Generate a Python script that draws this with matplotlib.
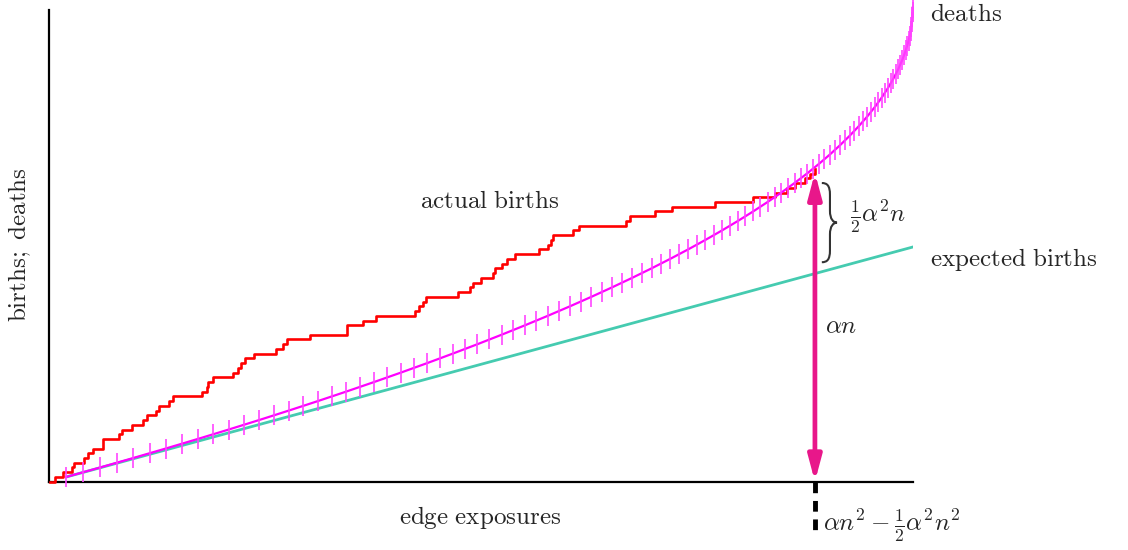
import matplotlib
matplotlib.use('Agg')
import matplotlib.pyplot as plt
from matplotlib.patches import FancyArrowPatch, PathPatch
from matplotlib.path import Path

plt.rcParams['mathtext.fontset'] = 'cm'

# deaths: exposure at which death number 1..100 happens
death_exposure = [100, 198, 296, 392, 488, 582, 676, 768, 860, 950,
                  1040, 1128, 1216, 1302, 1388, 1472, 1556, 1638, 1720, 1800,
                  1880, 1958, 2036, 2112, 2188, 2262, 2336, 2408, 2480, 2550,
                  2620, 2688, 2756, 2822, 2888, 2952, 3016, 3078, 3140, 3200,
                  3260, 3318, 3376, 3432, 3488, 3542, 3596, 3648, 3700, 3750,
                  3800, 3848, 3896, 3942, 3988, 4032, 4076, 4118, 4160, 4200,
                  4240, 4278, 4316, 4352, 4388, 4422, 4456, 4488, 4520, 4550,
                  4580, 4608, 4636, 4662, 4688, 4712, 4736, 4758, 4780, 4800,
                  4820, 4838, 4856, 4872, 4888, 4902, 4916, 4928, 4940, 4950,
                  4960, 4968, 4976, 4982, 4988, 4992, 4996, 4998, 5000, 5000]
death_count = list(range(1, len(death_exposure) + 1))

birth_exposure = [35, 83, 135, 146, 204, 224, 256, 314, 314, 405,
                  424, 482, 546, 566, 618, 637, 695, 720, 887, 913,
                  922, 951, 1067, 1096, 1110, 1135, 1187, 1314, 1356, 1380,
                  1511, 1723, 1723, 1820, 1893, 2119, 2144, 2163, 2183, 2370,
                  2437, 2453, 2499, 2572, 2582, 2621, 2650, 2698, 2838, 2891,
                  2904, 2919, 3032, 3070, 3340, 3363, 3508, 3605, 3856, 4074,
                  4203, 4271, 4319, 4377, 4406, 4434]
birth_count = list(range(1, len(birth_exposure) + 1))

# expected births line
expected_x = [100, 5000]
expected_y = [1, 49.5]

# crossing point marked by the arrow
cross_exposure = 4434
cross_level = 65.2
brace_top = 63.0
brace_bottom = 46.3

fig = plt.figure(figsize=(11.28, 5.5), dpi=100)
ax = fig.add_axes([49 / 1128, 68.3 / 550, 863.7 / 1128, 471.7 / 550])
ax.set_xlim(0, 5000)
ax.set_ylim(0, 99.5)
for side in ['top', 'right']:
    ax.spines[side].set_visible(False)
for side in ['left', 'bottom']:
    ax.spines[side].set_linewidth(1.6)
ax.set_xticks([])
ax.set_yticks([])

ax.plot(expected_x, expected_y, color='#45cbb0', lw=2, zorder=2)

ax.step([5] + birth_exposure, [0] + birth_count, where='post',
        color='#ff0000', lw=1.9, zorder=3, clip_on=False)

ax.plot(death_exposure, death_count, color='#ff00ff', lw=1.6, zorder=4,
        clip_on=False)
ax.plot(death_exposure, death_count, ls='none', marker='|', ms=14,
        mew=1.4, color='#ff44ff', alpha=0.85, zorder=4, clip_on=False)

arrow = FancyArrowPatch((cross_exposure, 0), (cross_exposure, cross_level),
                        arrowstyle='<|-|>,head_length=0.75,head_width=0.2',
                        mutation_scale=20, lw=3.4, color='#e8178a',
                        shrinkA=0, shrinkB=0, zorder=6, clip_on=False)
ax.add_patch(arrow)
ax.plot([cross_exposure, cross_exposure], [0, -10.3], color='black', lw=3.5,
        dashes=(2.2, 1.6), clip_on=False, zorder=5)

# curly brace between deaths and expected births
bx0, bx1, bx2 = cross_exposure + 40, cross_exposure + 87, cross_exposure + 128
bm = (brace_top + brace_bottom) / 2
verts = [(bx0, brace_top),
         (bx0 + 30, brace_top), (bx1, brace_top - 0.5), (bx1, brace_top - 2.5),
         (bx1, bm + 2.5),
         (bx1, bm + 0.7), (bx1 + 20, bm), (bx2, bm),
         (bx1 + 20, bm), (bx1, bm - 0.7), (bx1, bm - 2.5),
         (bx1, brace_bottom + 2.5),
         (bx1, brace_bottom + 0.5), (bx0 + 30, brace_bottom), (bx0, brace_bottom)]
codes = [Path.MOVETO,
         Path.CURVE4, Path.CURVE4, Path.CURVE4,
         Path.LINETO,
         Path.CURVE4, Path.CURVE4, Path.CURVE4,
         Path.CURVE4, Path.CURVE4, Path.CURVE4,
         Path.LINETO,
         Path.CURVE4, Path.CURVE4, Path.CURVE4]
ax.add_patch(PathPatch(Path(verts, codes), fill=False, lw=1.5,
                       edgecolor='#333333', clip_on=False, zorder=5))

tc = '#262626'
fs = 18
ax.text(5100, 98.7, r'$\mathrm{deaths}$', fontsize=fs, color=tc,
        ha='left', va='center', clip_on=False)
ax.text(5100, 46.8, r'$\mathrm{expected\ births}$', fontsize=fs, color=tc,
        ha='left', va='center', clip_on=False)
ax.text(2553, 59.2, r'$\mathrm{actual\ births}$', fontsize=fs, color=tc,
        ha='center', va='center')
ax.text(4492, 32.8, r'$\alpha n$', fontsize=fs, color=tc,
        ha='left', va='center')
ax.text(4637, 55.8, r'$\frac{1}{2}\alpha^2 n$', fontsize=fs, color=tc,
        ha='left', va='center', clip_on=False)
ax.text(4481, -9.4, r'$\alpha n^2 - \frac{1}{2}\alpha^2 n^2$', fontsize=fs,
        color=tc, ha='left', va='center', clip_on=False)
ax.text(2495, -7.6, r'$\mathrm{edge\ exposures}$', fontsize=fs, color=tc,
        ha='center', va='center', clip_on=False)
ax.text(-168, 49.9, r'$\mathrm{births;\ deaths}$', fontsize=fs, color=tc,
        ha='center', va='center', rotation=90, clip_on=False)

fig.savefig('out.png', dpi=100)
